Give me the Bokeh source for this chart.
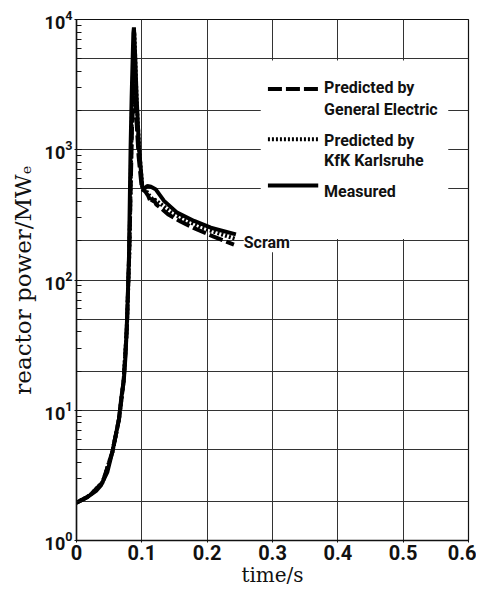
from bokeh.plotting import figure
from bokeh.models import FixedTicker, LogTicker, CustomJSTickFormatter, Label, BoxAnnotation
from bokeh.embed import file_html
from bokeh.resources import INLINE

# ---------------- data ----------------
measured_t = [0, 0.016, 0.030, 0.037, 0.047, 0.0547, 0.060, 0.065, 0.0685, 0.0726, 0.0751, 0.0777,
              0.0803, 0.0828, 0.0844, 0.087, 0.0879, 0.090, 0.092, 0.0956, 0.1007, 0.1045, 0.1084,
              0.114, 0.121, 0.134, 0.154, 0.180, 0.2055, 0.244]
measured_p = [1.95, 2.14, 2.4, 2.63, 3.33, 4.75, 6.39, 8.6, 12.3, 17.5, 26.5, 55,
              150, 1047, 2540, 7840, 8700, 5000, 2540, 1047, 515, 505, 528,
              520, 498, 405, 329, 284, 252, 224]

ge_t = [0, 0.02, 0.04, 0.055, 0.065, 0.072, 0.077, 0.081, 0.085, 0.088, 0.091, 0.095, 0.100,
        0.105, 0.110, 0.114, 0.118, 0.122, 0.128, 0.14, 0.16, 0.18, 0.21, 0.241]
ge_p = [1.95, 2.21, 2.8, 4.8, 8.5, 16.5, 42, 180, 1500, 3200, 2000, 900, 500,
        480, 440, 390, 420, 380, 360, 320, 280, 250, 215, 187]

kfk_t = [0, 0.02, 0.04, 0.055, 0.065, 0.072, 0.077, 0.081, 0.085, 0.0885, 0.092, 0.096, 0.101,
         0.106, 0.111, 0.116, 0.121, 0.13, 0.145, 0.165, 0.19, 0.215, 0.242]
kfk_p = [1.95, 2.21, 2.8, 4.8, 8.5, 16.5, 42, 170, 2200, 8000, 2400, 1000, 500,
         490, 450, 420, 410, 380, 330, 290, 255, 230, 208]

x_ticks = [0, 0.1, 0.2, 0.3, 0.4, 0.5, 0.6]
y_grid = [1, 2, 5, 10, 20, 50, 100, 200, 500, 1000, 2000, 5000, 10000]

legend_lines = [["Predicted by", "General Electric"], ["Predicted by", "KfK Karlsruhe"], ["Measured"]]
scram_text = "Scram"

COND = "Roboto"
SERIF = "DejaVu Serif"

p = figure(width=476, height=592, x_range=(0, 0.6), y_range=(1, 10000), y_axis_type="log",
           output_backend="svg", toolbar_location=None,
           min_border_left=76, min_border_top=19, min_border_right=8, min_border_bottom=52)
p.background_fill_color = "white"
p.outline_line_color = "#111111"
p.outline_line_width = 1.2

# grids
p.xgrid.ticker = FixedTicker(ticks=x_ticks[1:-1])
p.ygrid.ticker = FixedTicker(ticks=y_grid)
for g in (p.xgrid, p.ygrid):
    g.grid_line_color = "#333333"
    g.grid_line_width = 1

# white box behind the legend
p.add_layout(BoxAnnotation(left=0.282, right=0.569, bottom=206, top=4850,
                           fill_color="white", fill_alpha=1.0, line_color=None, level="underlay"))

# axes
xa = p.xaxis[0]
xa.ticker = FixedTicker(ticks=x_ticks)
xa.formatter = CustomJSTickFormatter(code="return tick == 0 ? '0' : tick.toFixed(1);")
xa.axis_label = "time/s"
ya = p.yaxis[0]
ya.ticker = LogTicker(num_minor_ticks=10)
ya.axis_label = "reactor power/MW\u2091"
for ax in (xa, ya):
    ax.axis_line_color = "#111111"
    ax.axis_line_width = 1.5
    ax.major_tick_line_color = "#111111"
    ax.major_tick_in = 0
    ax.major_tick_out = 2
    ax.major_label_standoff = 2
    ax.major_label_text_font = COND
    ax.major_label_text_font_style = "bold"
    ax.major_label_text_color = "#111111"
    ax.axis_label_text_font = SERIF
    ax.axis_label_text_font_style = "normal"
    ax.axis_label_text_color = "#111111"
xa.major_label_text_font_size = "20px"
ya.major_label_text_font_size = "18px"
xa.axis_label_text_font_size = "20px"
ya.axis_label_text_font_size = "23px"
xa.minor_tick_line_color = None
ya.minor_tick_in = 5
ya.minor_tick_out = 0
ya.minor_tick_line_color = "#111111"
xa.axis_label_standoff = 0
ya.axis_label_standoff = 6

# curves
p.line(kfk_t, kfk_p, line_color="black", line_width=4, line_dash="2 2")
p.line(ge_t, ge_p, line_color="black", line_width=4, line_dash="14 4")
p.line(measured_t, measured_p, line_color="black", line_width=4)

# legend (hand drawn)
sx0, sx1 = 0.293, 0.370
p.line([sx0, sx1], [2931, 2931], line_color="black", line_width=4, line_dash="14 4")
p.line([sx0, sx1], [1205, 1205], line_color="black", line_width=4, line_dash="2 2")
p.line([sx0, sx1], [532, 532], line_color="black", line_width=4)
text_y = [[2985, 2055], [1184, 829], [478]]
for lines, ys in zip(legend_lines, text_y):
    for txt, yy in zip(lines, ys):
        p.add_layout(Label(x=0.379, y=yy, text=txt, text_font=COND, text_font_style="bold",
                           text_font_size="16px", text_baseline="alphabetic", text_color="#111111"))

p.add_layout(Label(x=0.256, y=193, text=scram_text, text_font=COND, text_font_style="bold",
                   text_font_size="16px", text_baseline="alphabetic", text_color="#111111",
                   background_fill_color="white", background_fill_alpha=1.0))

open("out.html", "w").write(file_html(p, INLINE))
